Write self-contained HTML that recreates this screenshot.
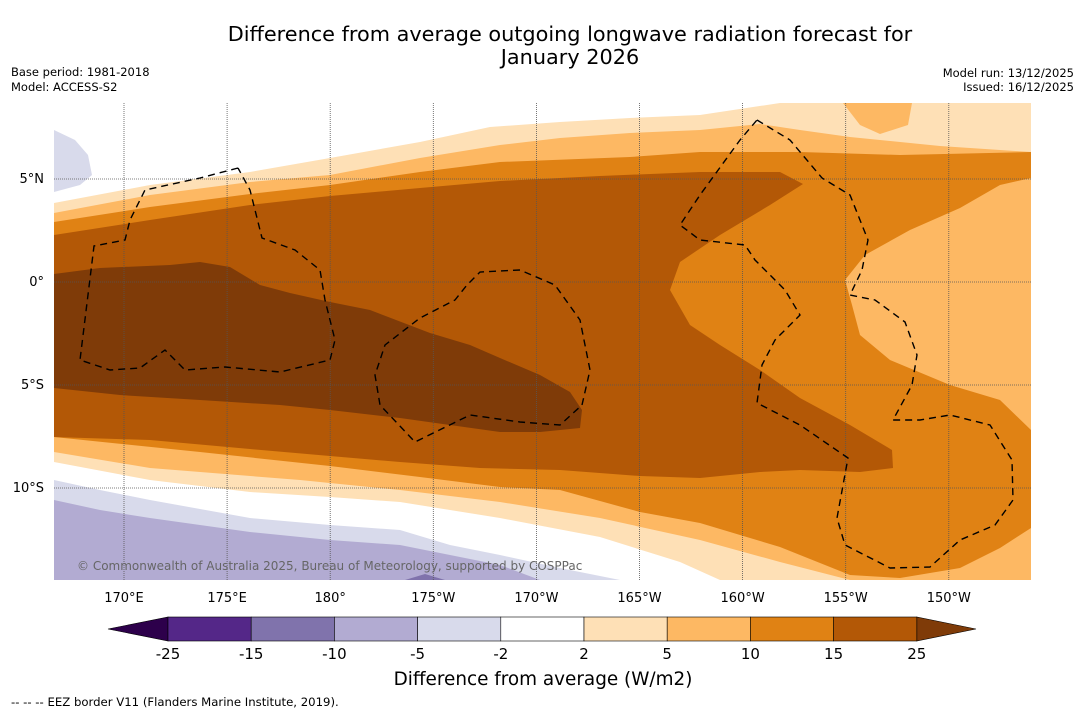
<!DOCTYPE html>
<html><head><meta charset="utf-8"><style>
body{margin:0;background:#fff;font-family:"Liberation Sans","DejaVu Sans",sans-serif}
svg text{font-family:"DejaVu Sans","Liberation Sans",sans-serif}
</style></head><body>
<svg id="c" width="1085" height="713" xmlns="http://www.w3.org/2000/svg">
<text x="570" y="41" font-size="20.8" text-anchor="middle">Difference from average outgoing longwave radiation forecast for</text>
<text x="570" y="64" font-size="20.8" text-anchor="middle">January 2026</text>
<text x="11" y="76" font-size="11.5">Base period: 1981-2018</text>
<text x="11" y="91" font-size="11.5">Model: ACCESS-S2</text>
<text x="1074" y="77" font-size="11.5" text-anchor="end">Model run: 13/12/2025</text>
<text x="1074" y="91" font-size="11.5" text-anchor="end">Issued: 16/12/2025</text>
<defs><clipPath id="mc"><rect x="54" y="103" width="977" height="477"/></clipPath></defs>
<g clip-path="url(#mc)">
<rect x="54" y="103" width="977" height="477" fill="#fff"/>
<path fill="#d8daeb" d="M54,130 L75,140 L88,155 L92,175 L80,185 L54,192 Z"/>
<path fill="#fee0b6" d="M54,203 L150,185 L250,172 L330,158 L420,142 L490,127 L560,122 L630,118 L700,115 L780,103 L1031,103 L1031,580 L720,580 L680,562 L600,537 L500,518 L400,502 L330,497 L250,492 L150,480 L54,462 Z"/>
<path fill="#fdb863" d="M54,213 L150,195 L250,182 L330,175 L420,158 L500,145 L560,138 L630,133 L700,130 L760,124 L800,130 L850,137 L940,146 L1031,152 L1031,580 L850,580 L780,562 L700,540 L600,518 L500,502 L400,490 L300,480 L150,468 L54,452 Z"/>
<path fill="#fdb863" d="M843,103 L912,103 L908,125 L880,134 L860,125 Z"/>
<path fill="#e08214" d="M54,222 L150,207 L250,194 L330,185 L420,172 L500,162 L630,157 L700,152 L800,152 L900,155 L1031,152 L1031,178 L1000,185 L960,208 L910,230 L865,255 L845,280 L852,305 L860,335 L890,360 L950,385 L1000,400 L1031,430 L1031,528 L1000,548 L960,568 L900,578 L850,575 L780,547 L700,523 L640,512 L560,490 L500,487 L420,477 L330,466 L200,452 L54,437 Z"/>
<path fill="#b35806" d="M54,235 L150,220 L250,205 L330,196 L420,188 L500,181 L600,176 L700,172 L780,172 L803,184 L770,205 L720,235 L680,262 L670,290 L690,325 L720,345 L760,370 L800,398 L850,425 L892,450 L893,468 L860,472 L800,470 L760,472 L700,478 L640,476 L560,470 L480,468 L400,462 L330,456 L250,449 L150,440 L54,437 Z"/>
<path fill="#7f3b08" d="M54,274 L100,268 L170,265 L200,262 L230,267 L260,285 L290,293 L330,302 L370,310 L430,333 L470,345 L500,358 L540,375 L570,392 L582,410 L580,428 L540,432 L500,432 L450,425 L400,418 L330,410 L280,405 L200,400 L120,395 L54,388 Z"/>
<path fill="#d8daeb" d="M54,480 L100,490 L150,500 L250,518 L330,525 L400,530 L450,545 L500,555 L560,568 L620,580 L54,580 Z"/>
<path fill="#b2abd2" d="M54,500 L100,510 L150,518 L250,532 L330,540 L400,545 L450,555 L500,565 L540,580 L54,580 Z"/>
<path fill="#8073ac" d="M405,580 L425,574 L445,580 Z"/>
<g id="grid" stroke="#555" stroke-width="0.8" stroke-dasharray="1,1"></g>
<g fill="none" stroke="#000" stroke-width="1.4" stroke-dasharray="7,5">
<path d="M238,168 L200,178 L145,190 L130,220 L125,240 L94,246 L80,360 L110,370 L140,368 L165,350 L185,370 L225,367 L280,372 L330,360 L335,340 L325,300 L320,270 L295,250 L262,238 L250,190 L238,168"/>
<path d="M582,405 L590,370 L580,320 L555,285 L520,270 L480,272 L467,285 L455,300 L420,318 L385,345 L375,375 L380,405 L415,442 L470,415 L520,422 L560,425 L582,405"/>
<path d="M757,120 L790,140 L822,178 L850,195 L868,240 L862,270 L850,295 L875,300 L905,322 L917,355 L912,385 L893,420 L920,420 L950,415 L990,425 L1012,460 L1013,500 L995,525 L960,540 L930,567 L890,568 L845,545 L837,518 L848,458 L800,425 L757,403 L762,365 L775,340 L800,315 L785,290 L755,260 L745,245 L700,240 L680,225 L700,195 L740,140 L757,120"/>
</g>
<text x="77" y="570" font-size="12" fill="#666">© Commonwealth of Australia 2025, Bureau of Meteorology, supported by COSPPac</text>
</g>
<g id="lonlabels" font-size="13" text-anchor="middle"></g>
<g id="latlabels" font-size="13" text-anchor="end"></g>
<g id="cbar"></g>
<text x="543" y="685" font-size="18.4" text-anchor="middle">Difference from average (W/m2)</text>
<text x="11" y="706" font-size="11.7">--  --  -- EEZ border V11 (Flanders Marine Institute, 2019).</text>
</svg>
<script>
const lonLabels=["170°E","175°E","180°","175°W","170°W","165°W","160°W","155°W","150°W"];
const lonVals=[170,175,180,185,190,195,200,205,210];
const latLabels=["5°N","0°","5°S","10°S"];
const latVals=[5,0,-5,-10];
const cbLevels=["-25","-15","-10","-5","-2","2","5","10","15","25"];
const cbColors=["#542788","#8073ac","#b2abd2","#d8daeb","#ffffff","#fee0b6","#fdb863","#e08214","#b35806"];
const cbLow="#2d004b", cbHigh="#7f3b08";
const NS="http://www.w3.org/2000/svg";
const xLon=v=>124+(v-170)*20.62;
const yLat=v=>282-v*20.6;
const grid=document.getElementById('grid');
lonVals.forEach((v,i)=>{
 const l=document.createElementNS(NS,'line');
 l.setAttribute('x1',xLon(v));l.setAttribute('x2',xLon(v));l.setAttribute('y1',103);l.setAttribute('y2',580);
 
 
 grid.appendChild(l);
 const t=document.createElementNS(NS,'text');
 t.setAttribute('x',xLon(v));t.setAttribute('y',602);t.textContent=lonLabels[i];
 
 
 document.getElementById('lonlabels').appendChild(t);
});
latVals.forEach((v,i)=>{
 const l=document.createElementNS(NS,'line');
 l.setAttribute('x1',54);l.setAttribute('x2',1031);l.setAttribute('y1',yLat(v));l.setAttribute('y2',yLat(v));
 
 
 grid.appendChild(l);
 const t=document.createElementNS(NS,'text');
 t.setAttribute('x',44);t.setAttribute('y',yLat(v)+4);t.textContent=latLabels[i];
 
 
 document.getElementById('latlabels').appendChild(t);
});
const cb=document.getElementById('cbar');
const cx0=168,cw=83.2,cy=617,ch=24;
const cx=i=>cx0+i*cw;
const lo=document.createElementNS(NS,'polygon');
lo.setAttribute('points',`${cx(0)},${cy} ${cx(0)},${cy+ch} 108,${cy+ch/2}`);
lo.setAttribute('fill',cbLow);lo.setAttribute('stroke','#000');lo.setAttribute('stroke-width','0.6');


cb.appendChild(lo);
const n=cbLevels.length-1;
const hi=document.createElementNS(NS,'polygon');
hi.setAttribute('points',`${cx(n)},${cy} ${cx(n)},${cy+ch} 976,${cy+ch/2}`);
hi.setAttribute('fill',cbHigh);hi.setAttribute('stroke','#000');hi.setAttribute('stroke-width','0.6');


cb.appendChild(hi);
cbColors.forEach((c,i)=>{
 const r=document.createElementNS(NS,'rect');
 r.setAttribute('x',cx(i));r.setAttribute('y',cy);r.setAttribute('width',cw);r.setAttribute('height',ch);
 r.setAttribute('fill',c);r.setAttribute('stroke','#000');r.setAttribute('stroke-width','0.6');
 
 
 cb.appendChild(r);
});
cbLevels.forEach((s,i)=>{
 const t=document.createElementNS(NS,'text');
 t.setAttribute('x',cx(i));t.setAttribute('y',659);t.setAttribute('font-size','15');t.setAttribute('text-anchor','middle');
 t.textContent=s;
 
 
 cb.appendChild(t);
});
</script>
</body></html>
